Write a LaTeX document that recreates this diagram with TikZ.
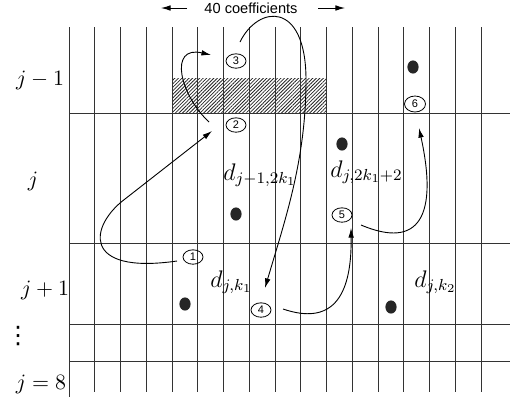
\documentclass[tikz,border=0pt]{standalone}
\usepackage{fontspec}
\newfontfamily\labsans{Liberation Sans}
\newfontfamily\dejavu{DejaVu Sans}
\usetikzlibrary{patterns.meta,arrows.meta,shapes.geometric}
\begin{document}
\begin{tikzpicture}[x=0.5pt,y=-0.5pt,
  gridline/.style={line width=0.5pt,draw=black!80},
  num/.style={ellipse,draw,line width=0.4pt,inner sep=0pt,minimum width=10pt,minimum height=7.2pt,font=\labsans\fontsize{5.5}{6}\selectfont},
  blob/.style={ellipse,fill=black!85,minimum width=5.6pt,minimum height=6.6pt,inner sep=0pt},
  conn/.style={line width=0.45pt,-{Latex[length=4.8pt,width=2.8pt]}},
  lev/.style={font=\fontsize{11}{13}\selectfont,inner sep=0pt},
  vdot/.style={font=\dejavu\fontsize{12}{13}\selectfont,inner sep=0pt},
  coef/.style={font=\fontsize{12}{14}\selectfont,inner sep=0pt,anchor=base west}]
\useasboundingbox (0,0) rectangle (512,398);
% hatched block
\fill[pattern={Lines[angle=45,distance=1.25pt,line width=0.4pt]},pattern color=black!85] (172,78) rectangle (326,113);
% grid
\foreach \i in {1,...,16} \draw[gridline] ({69+25.75*\i},27) -- ({69+25.75*\i},392);
\draw[gridline] (69,27) -- (69,397);
\foreach \y in {113,243,324,361} \draw[gridline] (69,\y) -- (510,\y);
% level labels
\node[lev] (l1) at (40,80) {$j-1$};
\node[lev] (l2) at (33,181) {$j$};
\node[lev] (l3) at (45,290) {$j+1$};
\node[vdot] (l4) at (18,336) {⋮};
\node[lev] (l5) at (41,384) {$j=8$};
% top label
\node[font=\labsans\fontsize{7.3}{8}\selectfont,inner sep=0pt] (t40) at (251,8) {40 coefficients};
\coordinate (a1s) at (187,8); \coordinate (a1e) at (161,8);
\coordinate (a2s) at (318,8); \coordinate (a2e) at (345,8);
\draw[conn] (a1s) -- (a1e);
\draw[conn] (a2s) -- (a2e);
% coefficient labels
\node[coef] (dA) at (223,180) {$d_{j-1,2k_1}$};
\node[coef] (dB) at (330,177) {$d_{j,2k_1+2}$};
\node[coef] (dC) at (210,287) {$d_{j,k_1}$};
\node[coef] (dD) at (414,287) {$d_{j,k_2}$};
% dots
\node[blob] (b1) at (413,67) {};
\node[blob] (b2) at (342,144) {};
\node[blob] (b3) at (236,214) {};
\node[blob] (b4) at (185,304) {};
\node[blob] (b5) at (391,307) {};
% numbered circles
\node[num] (c1) at (193,257) {1};
\node[num] (c2) at (236,125) {2};
\node[num] (c3) at (236,61) {3};
\node[num] (c4) at (261,310) {4};
\node[num] (c5) at (342,215) {5};
\node[num,minimum width=10.5pt,minimum height=8pt] (c6) at (415,104) {6};
% connector end points
\coordinate (s1) at (177,261); \coordinate (t1) at (212,131);
\coordinate (s2) at (209,122); \coordinate (t2) at (211,55);
\coordinate (s3) at (240,42);  \coordinate (t3) at (265,288);
\coordinate (s4) at (283,309); \coordinate (t4) at (351,228);
\coordinate (s5) at (361,225); \coordinate (t5) at (419,128);
% connectors
\draw[conn] (s1) .. controls (80,275) and (90,225) .. (125,199) -- (t1);
\draw[conn] (s2) .. controls (180,95) and (168,45) .. (t2);
\draw[conn] (s3) .. controls (258,5) and (306,0) .. (306,80) .. controls (306,160) and (285,220) .. (t3);
\draw[conn] (s4) .. controls (330,325) and (352,300) .. (t4);
\draw[conn] (s5) .. controls (420,250) and (438,215) .. (t5);
\end{tikzpicture}
\end{document}
